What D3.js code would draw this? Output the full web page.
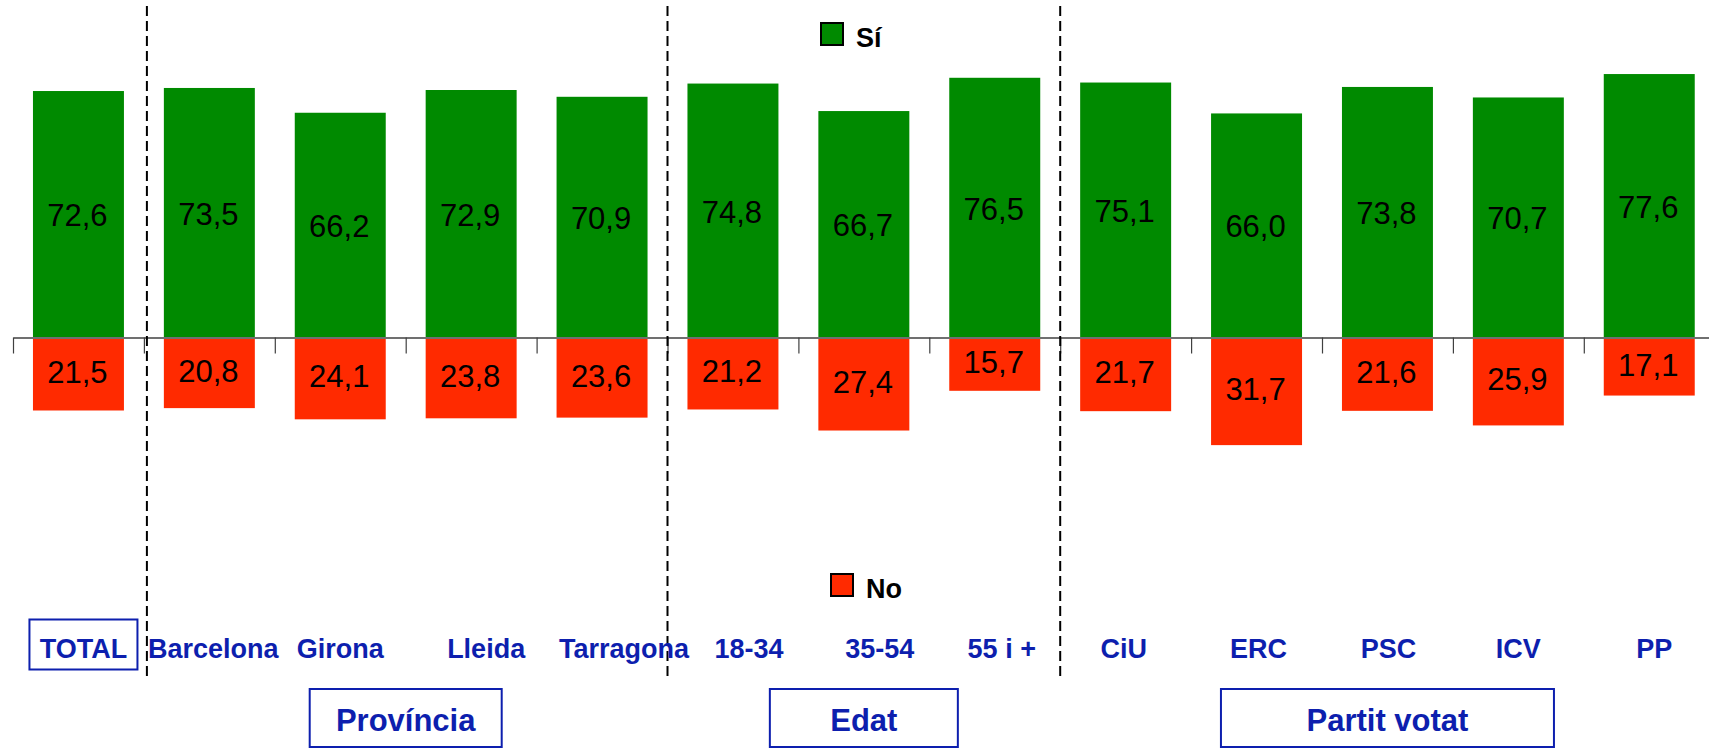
<!DOCTYPE html>
<html>
<head>
<meta charset="utf-8">
<script src="https://cdn.jsdelivr.net/npm/d3@7"></script>
<style>
  html, body { margin: 0; padding: 0; background: #fff; }
  svg { display: block; }
</style>
</head>
<body>
<svg id="chart" width="1709" height="748"></svg>
<script>
// ---- data ----
const categories = ["TOTAL", "Barcelona", "Girona", "Lleida", "Tarragona", "18-34", "35-54", "55 i +", "CiU", "ERC", "PSC", "ICV", "PP"];
const siValues = [72.6, 73.5, 66.2, 72.9, 70.9, 74.8, 66.7, 76.5, 75.1, 66.0, 73.8, 70.7, 77.6];
const noValues = [21.5, 20.8, 24.1, 23.8, 23.6, 21.2, 27.4, 15.7, 21.7, 31.7, 21.6, 25.9, 17.1];
const seriesNames = ["Sí", "No"];
const groupNames = ["Província", "Edat", "Partit votat"];
const groupFirst = [1, 5, 8];
const groupLast = [4, 7, 12];

// ---- layout / style ----
const W = 1709, H = 748;
const green = "#008a00", red = "#ff2a00", blue = "#0d1fae";
const groupBoxWidths = [192, 188, 333];
const labelNudge = [5, 4, 0, 15, 22, 16, 16, 7, -2, 2, 1, 0, 5];
const dashNudge = [3, 0, 0];
const font = "'Liberation Sans', Arial, sans-serif";

const svg = d3.select("#chart");

const x = d3.scaleBand().domain(categories).range([13, 1714.7])
  .paddingInner(0.305).paddingOuter(0.1525);
const y = d3.scaleLinear().domain([-100, 100]).range([677, -2]);
const y0 = y(0);
const boundary = i => i < categories.length
  ? x(categories[i]) - x.step() * x.paddingInner() / 2
  : x(categories[categories.length - 1]) + x.bandwidth() + x.step() * x.paddingInner() / 2;

const rows = categories.map((c, i) => ({ c, si: siValues[i], no: noValues[i] }));

// green bars
svg.append("g").selectAll("rect").data(rows).join("rect")
  .attr("x", d => x(d.c)).attr("width", x.bandwidth())
  .attr("y", d => y(d.si)).attr("height", d => y0 - 0.5 - y(d.si))
  .attr("fill", green);

// red bars
svg.append("g").selectAll("rect").data(rows).join("rect")
  .attr("x", d => x(d.c)).attr("width", x.bandwidth())
  .attr("y", y0 + 1.5).attr("height", d => y(-d.no) - y0 - 1.5)
  .attr("fill", red);

// axis (ticks at category boundaries)
const bScale = d3.scaleLinear().domain([0, categories.length])
  .range([boundary(0), boundary(categories.length)]);
const axis = d3.axisBottom(bScale).tickValues(d3.range(0, categories.length + 1))
  .tickSize(16).tickSizeOuter(0).tickFormat("");
const axG = svg.append("g").attr("transform", `translate(0,${y0})`).call(axis);
axG.select(".domain").attr("stroke", "#404040").attr("stroke-width", 1.5);
axG.selectAll(".tick line").attr("stroke", "#404040").attr("stroke-width", 1.2);

// value labels
const fmt = v => d3.format(".1f")(v).replace(".", ",");
svg.append("g").selectAll("text").data(rows).join("text")
  .attr("x", d => x(d.c) + x.bandwidth() / 2 - 1)
  .attr("y", d => (y(d.si) + y0) / 2 + 12)
  .attr("text-anchor", "middle")
  .attr("font-family", font).attr("font-size", 31).attr("fill", "#000")
  .text(d => fmt(d.si));
svg.append("g").selectAll("text").data(rows).join("text")
  .attr("x", d => x(d.c) + x.bandwidth() / 2 - 1)
  .attr("y", d => (y(-d.no) + y0) / 2 + 9)
  .attr("text-anchor", "middle")
  .attr("font-family", font).attr("font-size", 31).attr("fill", "#000")
  .text(d => fmt(d.no));

// dashed separators
svg.append("g").selectAll("line").data(groupFirst).join("line")
  .attr("x1", (d, i) => boundary(d) + dashNudge[i]).attr("x2", (d, i) => boundary(d) + dashNudge[i])
  .attr("y1", 6).attr("y2", 678)
  .attr("stroke", "#000").attr("stroke-width", 2).attr("stroke-dasharray", "10,5");

// category labels
svg.append("g").selectAll("text").data(categories).join("text")
  .attr("x", (d, i) => x(d) + x.bandwidth() / 2 + labelNudge[i])
  .attr("y", 658)
  .attr("text-anchor", "middle")
  .attr("font-family", font).attr("font-weight", "bold").attr("font-size", 27)
  .attr("fill", blue)
  .text(d => d);

// TOTAL box
svg.append("rect")
  .attr("x", x(categories[0]) + x.bandwidth() / 2 + 5 - 54).attr("y", 619.5)
  .attr("width", 108).attr("height", 50)
  .attr("fill", "none").attr("stroke", blue).attr("stroke-width", 2);

// group boxes + labels
const groups = groupNames.map((n, i) => ({
  n, cx: (boundary(groupFirst[i]) + boundary(groupLast[i] + 1)) / 2, w: groupBoxWidths[i]
}));
const gG = svg.append("g");
gG.selectAll("rect").data(groups).join("rect")
  .attr("x", d => d.cx - d.w / 2).attr("y", 689)
  .attr("width", d => d.w).attr("height", 58)
  .attr("fill", "none").attr("stroke", blue).attr("stroke-width", 2);
gG.selectAll("text").data(groups).join("text")
  .attr("x", d => d.cx).attr("y", 731)
  .attr("text-anchor", "middle")
  .attr("font-family", font).attr("font-weight", "bold").attr("font-size", 31)
  .attr("fill", blue)
  .text(d => d.n);

// legend
const legend = [
  { name: seriesNames[0], color: green, x: 821, y: 23 },
  { name: seriesNames[1], color: red, x: 831, y: 574 }
];
const lg = svg.append("g").selectAll("g").data(legend).join("g")
  .attr("transform", d => `translate(${d.x},${d.y})`);
lg.append("rect").attr("width", 22).attr("height", 22)
  .attr("fill", d => d.color).attr("stroke", "#000").attr("stroke-width", 2);
lg.append("text").attr("x", 35).attr("y", 24)
  .attr("font-family", font).attr("font-weight", "bold").attr("font-size", 27)
  .attr("fill", "#000").text(d => d.name);
</script>
</body>
</html>
